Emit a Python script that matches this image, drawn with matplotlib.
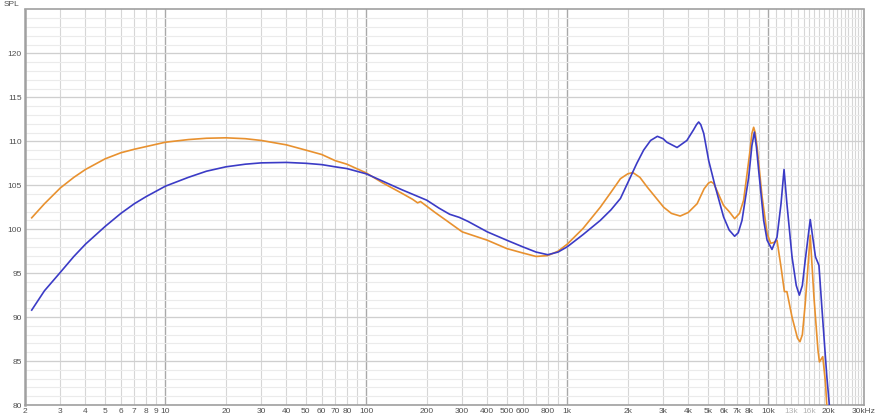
import numpy as np
import matplotlib.pyplot as plt
from matplotlib.ticker import FixedLocator, NullFormatter

# frequency response (Hz, dB SPL)
freq_orange = [2.16, 2.5, 3, 3.5, 4, 5, 6, 7, 8, 10, 13, 16, 20, 25, 30, 40, 50, 60, 70, 80,
               100, 120, 150, 170, 180, 186, 195, 220, 250, 300, 400, 500, 600, 700, 800,
               900, 1000, 1200, 1460, 1650, 1840, 2000, 2120, 2300, 2500, 3020, 3300, 3650,
               4000, 4430, 4800, 5050, 5200, 5360, 5560, 6000, 6400, 6810, 7200, 7550, 8090,
               8300, 8470, 8620, 8810, 9330, 9880, 10300, 10700, 11070, 11590, 12050, 12400,
               13150, 14000, 14400, 14800, 15300, 16200, 16900, 17700, 18000, 18700, 19300,
               19600, 20000]
spl_orange = [101.3, 102.9, 104.7, 105.9, 106.8, 108.0, 108.7, 109.1, 109.4, 109.9, 110.2,
              110.35, 110.4, 110.3, 110.1, 109.6, 109.0, 108.5, 107.8, 107.4,
              106.4, 105.3, 104.1, 103.4, 103.0, 103.15, 102.8, 101.9, 101.0, 99.7, 98.75,
              97.8, 97.3, 96.9, 97.0, 97.5, 98.3, 100.1, 102.5, 104.2, 105.75, 106.3,
              106.45, 105.9, 104.8, 102.5, 101.8, 101.5, 101.9, 102.9, 104.6, 105.25, 105.4,
              105.2, 104.4, 102.7, 102.0, 101.2, 101.8, 103.3, 108.6, 110.9, 111.6, 111.0,
              109.35, 103.7, 99.5, 98.4, 98.5, 98.75, 95.7, 92.9, 92.9, 90.0, 87.6, 87.2,
              88.0, 91.55, 99.3, 92.3, 86.25, 84.9, 85.5, 82.5, 79.8, 77.0]

freq_blue = [2.16, 2.5, 3, 3.5, 4, 5, 6, 7, 8, 10, 13, 16, 20, 25, 30, 40, 50, 60, 70, 80,
             100, 150, 200, 230, 260, 290, 320, 400, 500, 600, 700, 800, 900, 1000, 1200,
             1460, 1650, 1840, 2060, 2220, 2400, 2600, 2810, 3000, 3130, 3520, 3940, 4250,
             4400, 4510, 4620, 4780, 5060, 5460, 6000, 6400, 6810, 7100, 7410, 8000, 8300,
             8540, 8750, 8970, 9500, 9880, 10450, 11070, 11590, 12000, 12400, 13150, 13800,
             14300, 14800, 15300, 16200, 17200, 17900, 18550, 19600, 20200, 20600]
spl_blue = [90.8, 93.0, 95.1, 96.9, 98.3, 100.3, 101.8, 102.9, 103.7, 104.9, 105.9, 106.6,
            107.1, 107.4, 107.55, 107.6, 107.5, 107.35, 107.1, 106.9,
            106.3, 104.5, 103.3, 102.4, 101.7, 101.35, 100.9, 99.7, 98.75, 98.0, 97.4,
            97.1, 97.4, 98.0, 99.4, 101.0, 102.2, 103.5, 105.9, 107.5, 109.0, 110.1,
            110.57, 110.3, 109.9, 109.3, 110.1, 111.3, 111.9, 112.2, 111.9, 110.9, 107.8,
            104.8, 101.4, 99.9, 99.2, 99.6, 101.0, 105.9, 109.5, 111.05, 109.3, 106.7,
            101.0, 98.75, 97.7, 99.1, 102.9, 106.8, 102.9, 96.85, 93.6, 92.5, 93.6, 96.5,
            101.1, 96.85, 95.9, 90.8, 83.2, 79.8, 77.0]

x_ticks = [2, 3, 4, 5, 6, 7, 8, 9, 10, 20, 30, 40, 50, 60, 70, 80, 100, 200, 300, 400,
           500, 600, 800, 1000, 2000, 3000, 4000, 5000, 6000, 7000, 8000, 10000, 13000,
           16000, 20000, 30000]
x_labels = ['2', '3', '4', '5', '6', '7', '8', '9', '10', '20', '30', '40', '50', '60', '70',
            '80', '100', '200', '300', '400', '500', '600', '800', '1k', '2k', '3k', '4k',
            '5k', '6k', '7k', '8k', '10k', '13k', '16k', '20k', '30kHz']
y_ticks = [80, 85, 90, 95, 100, 105, 110, 115, 120]

plt.rcParams['font.family'] = ['Liberation Sans', 'DejaVu Sans']

fig = plt.figure(figsize=(8.77, 4.19), dpi=100)
ax = fig.add_axes([25 / 877, 1 - 405 / 419, 839 / 877, 395.5 / 419])
ax.set_xscale('log')
ax.set_xlim(2, 30000)
ax.set_ylim(80, 125)

# grid lines: every unit in each decade, 1k steps above 10k
minor_x = []
for dec in [1, 10, 100, 1000]:
    minor_x += [m * dec for m in range(2, 10)]
minor_x += list(range(11000, 30001, 1000))
for v in minor_x:
    ax.axvline(v, color='#d6d6d6', lw=0.8, zorder=0)
for v in [10, 100, 1000, 10000]:
    ax.axvline(v, color='#a9a9a9', lw=1.0, zorder=0)
for v in range(81, 125):
    ax.axhline(v, color='#ebebeb', lw=0.8, zorder=0)
for v in y_ticks:
    ax.axhline(v, color='#cfcfcf', lw=0.9, zorder=0)

ax.plot(freq_orange, spl_orange, color='#E8912F', lw=1.2, zorder=3)
ax.plot(freq_blue, spl_blue, color='#3B3BC6', lw=1.2, zorder=4)

ax.xaxis.set_major_locator(FixedLocator(x_ticks))
ax.set_xticklabels(x_labels)
ax.xaxis.set_minor_formatter(NullFormatter())
ax.xaxis.set_minor_locator(FixedLocator([]))
ax.set_yticks(y_ticks)
ax.tick_params(length=0, labelsize=6, colors='#505050', pad=2.5)
for lab in ax.get_xticklabels():
    if lab.get_text() in ('13k', '16k'):
        lab.set_color('#b4b4b4')

for s in ax.spines.values():
    s.set_color('#a0a0a0')
    s.set_linewidth(1.2)
ax.spines['left'].set_linewidth(1.8)

fig.text(4 / 877, 1 - 5 / 419, 'SPL', fontsize=6, color='#505050', va='center')

fig.savefig('out.png', dpi=100)
